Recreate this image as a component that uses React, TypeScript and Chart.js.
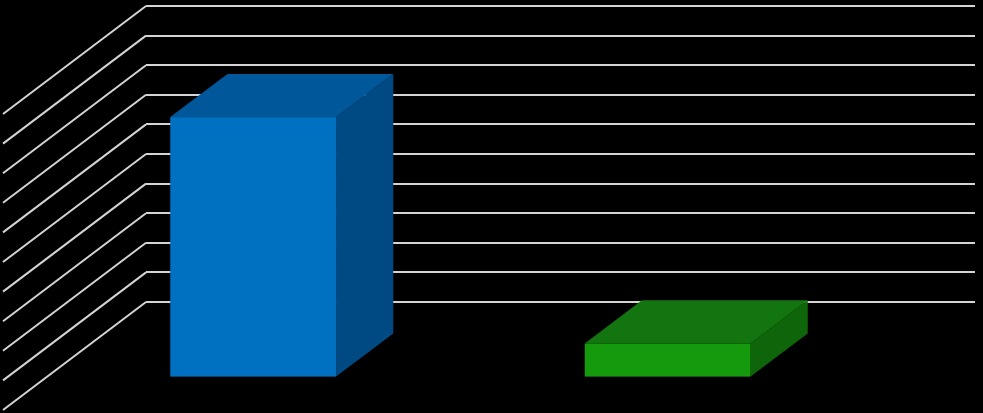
import { Chart, registerables, type Plugin } from 'chart.js'
import { useEffect, useRef } from 'react'

Chart.register(...registerables)

const categories = ['A', 'B']
const values = [8.8, 1.15]
const frontColors = ['#0070c0', '#149a0c']
const topColors = ['#00589a', '#137510']
const sideColors = ['#004a84', '#0f660a']

// oblique floor depth (back wall -> front edge) and bar depth slice
const FLOOR_DX = -143
const FLOOR_DY = 108
const BAR_BACK = 0.3
const BAR_FRONT = 0.7

const wall3d: Plugin<'bar'> = {
  id: 'wall3d',
  beforeDatasetsDraw(chart) {
    const { ctx, chartArea, scales } = chart
    const y = scales.y
    ctx.save()
    ctx.strokeStyle = '#d4d4d4'
    ctx.lineWidth = 2
    y.ticks.forEach((t) => {
      const py = y.getPixelForValue(t.value)
      ctx.beginPath()
      ctx.moveTo(chartArea.left, py)
      ctx.lineTo(chartArea.left + FLOOR_DX, py + FLOOR_DY)
      ctx.stroke()
    })
    ctx.restore()
  },
  afterDatasetsDraw(chart) {
    const { ctx } = chart
    const meta = chart.getDatasetMeta(0)
    const fdx = FLOOR_DX * BAR_FRONT
    const fdy = FLOOR_DY * BAR_FRONT
    const bdx = FLOOR_DX * BAR_BACK
    const bdy = FLOOR_DY * BAR_BACK
    ctx.save()
    meta.data.forEach((el, i) => {
      const { x, y, base, width } = el.getProps(['x', 'y', 'base', 'width'], true) as any
      const l = x - width / 2
      const r = x + width / 2
      // side face
      ctx.fillStyle = sideColors[i]
      ctx.beginPath()
      ctx.moveTo(r + fdx, y + fdy)
      ctx.lineTo(r + bdx, y + bdy)
      ctx.lineTo(r + bdx, base + bdy)
      ctx.lineTo(r + fdx, base + fdy)
      ctx.closePath()
      ctx.fill()
      // top face
      ctx.fillStyle = topColors[i]
      ctx.beginPath()
      ctx.moveTo(l + fdx, y + fdy)
      ctx.lineTo(r + fdx, y + fdy)
      ctx.lineTo(r + bdx, y + bdy)
      ctx.lineTo(l + bdx, y + bdy)
      ctx.closePath()
      ctx.fill()
      // front face
      ctx.fillStyle = frontColors[i]
      ctx.fillRect(l + fdx, y + fdy, width, base - y)
    })
    ctx.restore()
  },
}

export default function App() {
  const canvasRef = useRef<HTMLCanvasElement | null>(null)

  useEffect(() => {
    if (!canvasRef.current) {
      return
    }

    const chart = new Chart(canvasRef.current, {
      type: 'bar',
      data: {
        labels: categories,
        datasets: [
          {
            data: values,
            backgroundColor: 'rgba(0,0,0,0)',
            categoryPercentage: 1,
            barPercentage: 0.4,
          },
        ],
      },
      options: {
        animation: false,
        responsive: true,
        maintainAspectRatio: false,
        layout: { padding: { left: 146, right: 8, top: 6, bottom: 111 } },
        plugins: {
          legend: { display: false },
          tooltip: { enabled: false },
        },
        scales: {
          x: { display: false },
          y: {
            min: 0,
            max: 10,
            ticks: { display: false, stepSize: 1 },
            border: { display: false },
            grid: { color: '#d4d4d4', lineWidth: 2, drawTicks: false },
          },
        },
      },
      plugins: [wall3d],
    })

    return () => {
      chart.destroy()
    }
  }, [])

  return (
    <div style={{ position: 'fixed', left: 0, top: 0, width: 983, height: 413, background: '#000' }}>
      <canvas ref={canvasRef} />
    </div>
  )
}
